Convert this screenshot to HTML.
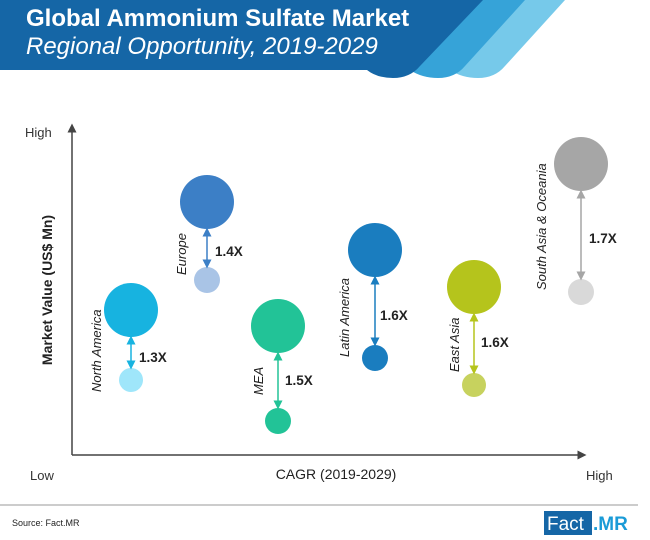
<!DOCTYPE html>
<html><head><style>
body{margin:0;background:#fff;}
svg{display:block;font-family:"Liberation Sans",sans-serif;}
</style></head><body>
<svg width="650" height="540" viewBox="0 0 650 540">
<defs>
<marker id="ah" markerWidth="6" markerHeight="6" refX="3" refY="3" orient="auto"><path d="M0,0 L6,3 L0,6 z" fill="#444"/></marker>
<marker id="m1" markerWidth="6" markerHeight="6" refX="3" refY="3" orient="auto-start-reverse"><path d="M0,0 L6,3 L0,6 z" fill="#17b3e0"/></marker>
<marker id="m2" markerWidth="6" markerHeight="6" refX="3" refY="3" orient="auto-start-reverse"><path d="M0,0 L6,3 L0,6 z" fill="#3c7fc6"/></marker>
<marker id="m3" markerWidth="6" markerHeight="6" refX="3" refY="3" orient="auto-start-reverse"><path d="M0,0 L6,3 L0,6 z" fill="#22c397"/></marker>
<marker id="m4" markerWidth="6" markerHeight="6" refX="3" refY="3" orient="auto-start-reverse"><path d="M0,0 L6,3 L0,6 z" fill="#1a7dbf"/></marker>
<marker id="m5" markerWidth="6" markerHeight="6" refX="3" refY="3" orient="auto-start-reverse"><path d="M0,0 L6,3 L0,6 z" fill="#b5c41c"/></marker>
<marker id="m6" markerWidth="6" markerHeight="6" refX="3" refY="3" orient="auto-start-reverse"><path d="M0,0 L6,3 L0,6 z" fill="#a6a6a6"/></marker>
</defs>
<!-- header -->
<path d="M565,0 L505,66 Q495,78 478,78 Q462,78 450,70 L500,0 Z" fill="#76c9ea"/>
<path d="M525,0 L465,66 Q455,78 438,78 Q422,78 410,70 L460,0 Z" fill="#36a3d8"/>
<path d="M0,0 L483,0 L420,66 Q410,78 393,78 Q377,78 367,70 L0,70 Z" fill="#1566a6"/>
<text x="26" y="26" font-size="24" font-weight="bold" fill="#fff">Global Ammonium Sulfate Market</text>
<text x="26" y="54" font-size="24" font-style="italic" fill="#fff">Regional Opportunity, 2019-2029</text>
<!-- axes -->
<line x1="72" y1="455" x2="72" y2="128" stroke="#444" stroke-width="1.5" marker-end="url(#ah)"/>
<line x1="72" y1="455" x2="582" y2="455" stroke="#444" stroke-width="1.5" marker-end="url(#ah)"/>
<text x="25" y="137" font-size="13" fill="#333">High</text>
<text x="30" y="480" font-size="13" fill="#333">Low</text>
<text x="586" y="480" font-size="13" fill="#333">High</text>
<text x="336" y="479" font-size="14" text-anchor="middle" fill="#222">CAGR (2019-2029)</text>
<text transform="translate(52,290) rotate(-90)" font-size="14" font-weight="bold" text-anchor="middle" fill="#222">Market Value (US$ Mn)</text>
<!-- bubbles -->
<g font-size="13.5" font-weight="bold" fill="#222">
<circle cx="131" cy="310" r="27" fill="#17b3e0"/><circle cx="131" cy="380" r="12" fill="#9fe6fa"/>
<line x1="131" y1="340" x2="131" y2="365" stroke="#17b3e0" stroke-width="1.5" marker-start="url(#m1)" marker-end="url(#m1)"/>
<text x="139" y="362">1.3X</text>
<circle cx="207" cy="202" r="27" fill="#3c7fc6"/><circle cx="207" cy="280" r="13" fill="#a9c4e6"/>
<line x1="207" y1="232" x2="207" y2="264" stroke="#3c7fc6" stroke-width="1.5" marker-start="url(#m2)" marker-end="url(#m2)"/>
<text x="215" y="256">1.4X</text>
<circle cx="278" cy="326" r="27" fill="#22c397"/><circle cx="278" cy="421" r="13" fill="#22c397"/>
<line x1="278" y1="356" x2="278" y2="405" stroke="#22c397" stroke-width="1.5" marker-start="url(#m3)" marker-end="url(#m3)"/>
<text x="285" y="385">1.5X</text>
<circle cx="375" cy="250" r="27" fill="#1a7dbf"/><circle cx="375" cy="358" r="13" fill="#1a7dbf"/>
<line x1="375" y1="280" x2="375" y2="342" stroke="#1a7dbf" stroke-width="1.5" marker-start="url(#m4)" marker-end="url(#m4)"/>
<text x="380" y="320">1.6X</text>
<circle cx="474" cy="287" r="27" fill="#b5c41c"/><circle cx="474" cy="385" r="12" fill="#c7d25e"/>
<line x1="474" y1="317" x2="474" y2="370" stroke="#b5c41c" stroke-width="1.5" marker-start="url(#m5)" marker-end="url(#m5)"/>
<text x="481" y="347">1.6X</text>
<circle cx="581" cy="164" r="27" fill="#a6a6a6"/><circle cx="581" cy="292" r="13" fill="#d9d9d9"/>
<line x1="581" y1="194" x2="581" y2="276" stroke="#a6a6a6" stroke-width="1.5" marker-start="url(#m6)" marker-end="url(#m6)"/>
<text x="589" y="243">1.7X</text>
</g>
<g font-size="13" font-style="italic" fill="#222">
<text transform="translate(101,392) rotate(-90)">North America</text>
<text transform="translate(186,275) rotate(-90)">Europe</text>
<text transform="translate(263,395) rotate(-90)">MEA</text>
<text transform="translate(349,357) rotate(-90)">Latin America</text>
<text transform="translate(459,372) rotate(-90)">East Asia</text>
<text transform="translate(546,290) rotate(-90)">South Asia &amp; Oceania</text>
</g>
<!-- footer -->
<line x1="0" y1="505" x2="638" y2="505" stroke="#999" stroke-width="1"/>
<text x="12" y="526" font-size="9" fill="#222">Source: Fact.MR</text>
<rect x="544" y="511" width="48" height="24" fill="#1566a6"/>
<text x="547" y="530" font-size="19" fill="#fff">Fact</text>
<text x="593" y="530" font-size="19" font-weight="bold" fill="#1a9bd7">.MR</text>
</svg>
</body></html>
